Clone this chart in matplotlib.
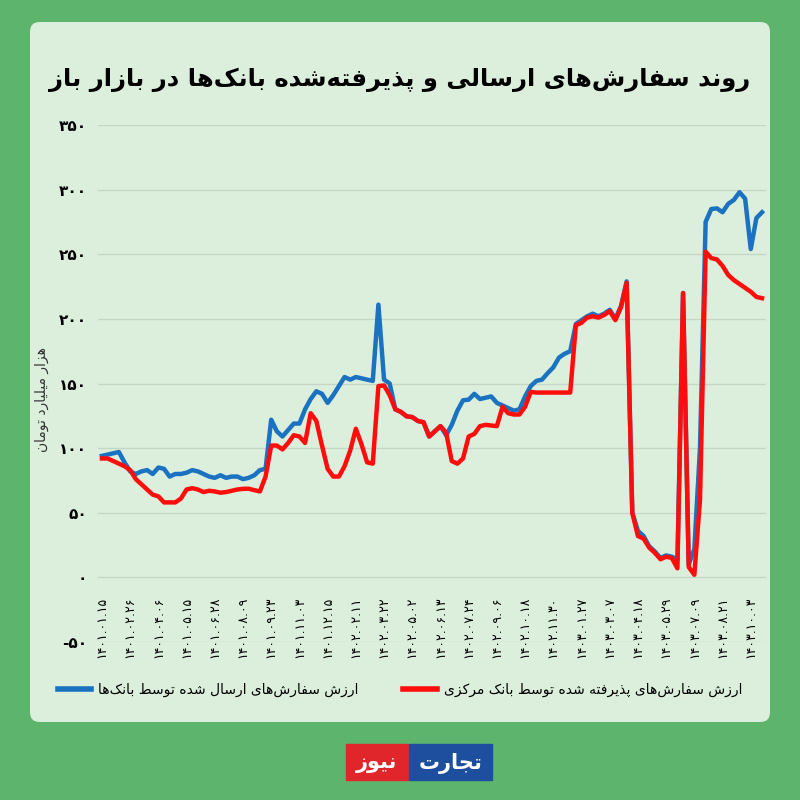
import matplotlib
matplotlib.use("Agg")
import matplotlib.pyplot as plt
from matplotlib.patches import FancyBboxPatch, Rectangle

# --- data -----------------------------------------------------------------
dates = ["1401.01.15", "1401.02.26", "1401.04.06", "1401.05.15", "1401.06.28",
         "1401.08.09", "1401.09.23", "1401.11.03", "1401.12.15", "1402.02.11",
         "1402.03.22", "1402.05.02", "1402.06.13", "1402.07.24", "1402.09.06",
         "1402.10.18", "1402.11.30", "1403.01.27", "1403.03.07", "1403.04.18",
         "1403.05.29", "1403.07.09", "1403.08.21", "1403.10.03"]

# sent by banks (blue)
sent = [94, 95, 96, 97, 89, 82, 80, 82, 83, 80,
        85, 84, 78, 80, 80, 81, 83, 82, 80, 78,
        77, 79, 77, 78, 78, 76, 77, 79, 83, 84,
        122, 113, 109, 114, 119, 119, 130, 138, 144, 142,
        135, 141, 148, 155, 153, 155, 154, 153, 152, 211,
        153, 150, 130, 128, 124.6, 124, 121, 120, 109, 113,
        117, 110, 118, 129, 137, 137.5, 142, 138, 139, 140,
        135, 133, 131, 129, 130, 140, 148, 152, 153, 158,
        162.5, 170, 173, 175, 196, 199, 202, 204, 202, 204,
        207, 200, 210, 229, 50, 36, 32, 24, 20, 15,
        17, 16, 14, 220, 10, 22, 100, 275, 285, 285.5,
        282.5, 289, 292, 298, 293, 254, 278, 282.5]

# accepted by central bank (red)
accepted = [92, 92, 90, 88, 86, 83, 76, 72, 68, 64,
            62.7, 58, 58, 58, 61, 68, 69, 68, 66, 67,
            66.5, 65.5, 66, 67, 68, 68.5, 68.6, 67.5, 66.5, 78,
            102, 102, 99, 104, 110, 109, 104, 127, 121, 102,
            84, 78, 78, 86, 98, 115, 103, 89, 88, 148,
            148.5, 141, 130, 128, 124.6, 124, 121, 120, 109, 113,
            117, 112, 90, 88, 92, 109, 111, 117, 118, 117.5,
            117, 132, 127, 126, 126, 132, 143.5, 143, 143, 143,
            143, 143, 143, 143, 195, 197, 201, 202, 201, 203,
            206, 199, 209, 228, 50, 32, 30, 23, 19, 14,
            16, 15, 7, 220, 8, 2, 60, 252, 247, 246,
            241, 234, 230, 227, 224, 221, 217, 216]

pts_per_label = 5
yticks = [-50, 0, 50, 100, 150, 200, 250, 300, 350]

title = "روند سفارش‌های ارسالی و پذیرفته‌شده بانک‌ها در بازار باز"
label_sent = "ارزش سفارش‌های ارسال شده توسط بانک‌ها"
label_acc = "ارزش سفارش‌های پذیرفته شده توسط بانک مرکزی"
ylabel = "هزار میلیارد تومان"


# --- tiny arabic shaper (matplotlib has no bidi / joining) -----------------
FORMS = {
    'ا': ('\uFE8D', '\uFE8E', None, None),
    'ب': ('\uFE8F', '\uFE90', '\uFE91', '\uFE92'),
    'پ': ('\uFB56', '\uFB57', '\uFB58', '\uFB59'),
    'ت': ('\uFE95', '\uFE96', '\uFE97', '\uFE98'),
    'ج': ('\uFE9D', '\uFE9E', '\uFE9F', '\uFEA0'),
    'د': ('\uFEA9', '\uFEAA', None, None),
    'ذ': ('\uFEAB', '\uFEAC', None, None),
    'ر': ('\uFEAD', '\uFEAE', None, None),
    'ز': ('\uFEAF', '\uFEB0', None, None),
    'س': ('\uFEB1', '\uFEB2', '\uFEB3', '\uFEB4'),
    'ش': ('\uFEB5', '\uFEB6', '\uFEB7', '\uFEB8'),
    'ط': ('\uFEC1', '\uFEC2', '\uFEC3', '\uFEC4'),
    'ف': ('\uFED1', '\uFED2', '\uFED3', '\uFED4'),
    'ک': ('\uFB8E', '\uFB8F', '\uFB90', '\uFB91'),
    'ل': ('\uFEDD', '\uFEDE', '\uFEDF', '\uFEE0'),
    'م': ('\uFEE1', '\uFEE2', '\uFEE3', '\uFEE4'),
    'ن': ('\uFEE5', '\uFEE6', '\uFEE7', '\uFEE8'),
    'ه': ('\uFEE9', '\uFEEA', '\uFEEB', '\uFEEC'),
    'و': ('\uFEED', '\uFEEE', None, None),
    'ی': ('\uFBFC', '\uFBFD', '\uFBFE', '\uFBFF'),
}


def shape(s):
    out = []
    for i, c in enumerate(s):
        if c not in FORMS:
            if c != '\u200c':
                out.append(c)
            continue
        prev = s[i - 1] if i > 0 else ''
        nxt = s[i + 1] if i + 1 < len(s) else ''
        join_prev = prev in FORMS and FORMS[prev][2] is not None
        join_next = FORMS[c][2] is not None and nxt in FORMS
        iso, fin, ini, med = FORMS[c]
        if join_prev and join_next:
            out.append(med)
        elif join_prev:
            out.append(fin)
        elif join_next:
            out.append(ini)
        else:
            out.append(iso)
    return ''.join(out)[::-1]


def fa(s):
    return s.translate(str.maketrans("0123456789", "۰۱۲۳۴۵۶۷۸۹"))


# --- figure -----------------------------------------------------------------
plt.rcParams['font.family'] = ['DejaVu Sans']
fig = plt.figure(figsize=(8, 8), dpi=100)
fig.patch.set_facecolor('#5db46c')

panel = FancyBboxPatch((30 / 800, 78 / 800), 740 / 800, 700 / 800,
                       boxstyle="round,pad=0,rounding_size=0.012",
                       transform=fig.transFigure, facecolor='#dbefdc',
                       edgecolor='none', zorder=-10)
fig.patches.append(panel)

ax = fig.add_axes([98 / 800, 158 / 800, 668 / 800, 517 / 800])
ax.set_facecolor('none')

x = list(range(len(sent)))
ax.plot(x, sent, color='#1b72c0', lw=3.2, solid_joinstyle='round', zorder=3)
ax.plot(x, accepted, color='#ff0d0d', lw=3.2, solid_joinstyle='round', zorder=4)

ax.set_xlim(-0.7, len(sent) - 1 + 0.7)
ax.set_ylim(-50, 350)
ax.spines['bottom'].set_position(('data', 0))
for sp in ax.spines.values():
    sp.set_visible(False)

ax.set_yticks(yticks)
ax.set_yticklabels([fa(str(v)) for v in yticks], fontsize=11, fontweight='bold')
ax.yaxis.grid(True, color='#c5d6c6', lw=0.9)
ax.tick_params(axis='y', length=0, pad=8)

ax.set_xticks([i * pts_per_label for i in range(len(dates))])
ax.set_xticklabels([fa(d) for d in dates], rotation=90, fontsize=9)
ax.tick_params(axis='x', length=0, pad=14)

fig.text(42 / 800, 1 - 400 / 800, shape(ylabel), rotation=90, ha='center',
         va='center', fontsize=10, color='#333333')

fig.text(0.5, 1 - 80 / 800, shape(title), ha='center', va='center',
         fontsize=17.5, fontweight='bold', color='black')

h1, = ax.plot([], [], color='#1b72c0', lw=4)
h2, = ax.plot([], [], color='#ff0d0d', lw=4)
fig.legend([h1, h2], [shape(label_sent), shape(label_acc)], ncol=2,
           loc='center', bbox_to_anchor=(0.5, 1 - 690 / 800), frameon=False,
           fontsize=10, handlelength=2.4, columnspacing=3.2, handletextpad=0.5)

# logo
fig.patches.append(Rectangle((346 / 800, 1 - 780 / 800), 62 / 800, 36 / 800,
                             transform=fig.transFigure, color='#e0262b'))
fig.patches.append(Rectangle((409 / 800, 1 - 780 / 800), 83 / 800, 36 / 800,
                             transform=fig.transFigure, color='#1e4f9e'))
fig.text(377 / 800, 1 - 763 / 800, shape("نیوز"), ha='center', va='center',
         color='white', fontsize=15, fontweight='bold')
fig.text(450 / 800, 1 - 763 / 800, shape("تجارت"), ha='center', va='center',
         color='white', fontsize=15, fontweight='bold')

fig.savefig('out.png', dpi=100, facecolor=fig.get_facecolor())
